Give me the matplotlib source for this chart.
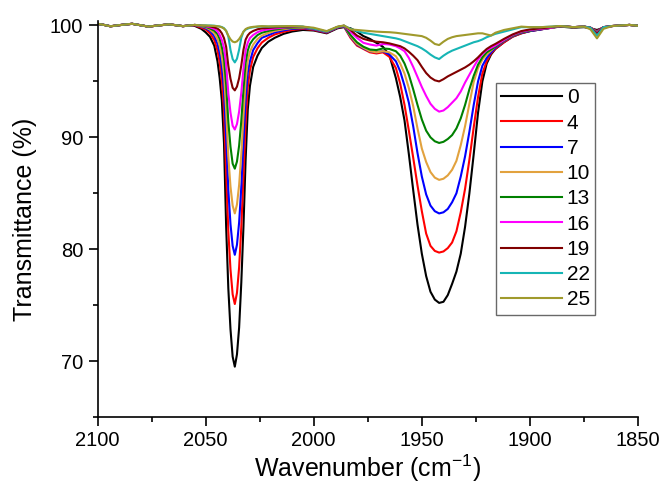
import matplotlib
matplotlib.use("Agg")
import matplotlib.pyplot as plt
from matplotlib.ticker import MultipleLocator, FixedLocator

plt.rcParams['font.family'] = ['Liberation Sans', 'DejaVu Sans']
plt.rcParams['mathtext.default'] = 'regular'

# Shared baseline at the high-wavenumber end (all spectra coincide here)
wn_left = [2100, 2097, 2094, 2089, 2084, 2080, 2076.5, 2072, 2067, 2063.5, 2060.5, 2057.5]
t_left = [100.15, 100.05, 99.93, 100.05, 100.15, 100.02, 99.9, 100.0, 100.1, 100.02, 99.94, 100.0]

# Wavenumber grid for the band region
wn = [2055, 2052, 2050, 2048, 2046, 2044.5, 2043.5, 2042.5, 2041.5, 2040.5,
      2039.5, 2038.5, 2037.5, 2036.5, 2035.5, 2034.5, 2033.5, 2032.5, 2031.5, 2030.5,
      2029.5, 2028, 2026, 2024, 2021, 2018, 2014, 2010, 2005, 2000, 1994, 1989, 1986,
      1983, 1980, 1977, 1974, 1971, 1968, 1965, 1962, 1960, 1958,
      1956, 1954, 1952, 1950, 1948, 1946, 1944, 1942, 1940, 1938,
      1936, 1934, 1932, 1930, 1928, 1926, 1924, 1922, 1920, 1918,
      1916, 1912, 1908, 1904, 1900, 1895, 1890, 1886, 1880, 1875,
      1872, 1869, 1866, 1862, 1858, 1854, 1850]

t_0 = [99.96, 99.7, 99.39, 98.99, 98.2, 96.8, 95.3, 93.3, 89.5, 82.0,
       76.5, 72.85, 70.4, 69.5, 70.6, 73.0, 77.0, 82.0, 88.0, 92.5,
       94.6, 96.3, 97.3, 97.99, 98.55, 98.9, 99.25, 99.46, 99.6, 99.55, 99.3, 99.75, 99.85,
       99.75, 99.45, 99.05, 98.8, 98.45, 98.1, 97.35, 95.3, 93.6, 91.5,
       88.5, 85.3, 82.2, 79.6, 77.6, 76.2, 75.5, 75.2, 75.3, 75.9,
       76.9, 78.0, 79.6, 82.0, 85.0, 88.5, 92.2, 95.0, 96.6, 97.4,
       97.9, 98.5, 99.0, 99.3, 99.5, 99.65, 99.8, 99.9, 99.8, 99.85,
       99.75, 99.6, 99.8, 99.95, 100.0, 100.05, 99.98]

t_4 = [100.0, 99.8, 99.65, 99.3, 98.7, 97.76, 96.7, 95.1, 92.35, 86.8,
       81.6, 78.2, 75.97, 75.1, 76.1, 78.4, 81.97, 86.5, 91.3, 94.5,
       95.99, 97.19, 97.96, 98.48, 98.9, 99.2, 99.43, 99.6, 99.7, 99.6, 99.35, 99.8, 99.9,
       98.9, 98.2, 97.9, 97.6, 97.5, 97.6, 97.2, 96.2, 94.8, 92.9,
       90.6, 88.2, 85.7, 83.4, 81.4, 80.3, 79.85, 79.7, 79.8, 80.1,
       80.6, 81.6, 83.3, 85.4, 88.0, 90.9, 93.6, 95.7, 96.8, 97.5,
       97.9, 98.5, 99.0, 99.3, 99.5, 99.65, 99.8, 99.95, 99.85, 99.9,
       99.8, 99.5, 99.85, 99.95, 100.0, 100.05, 99.98]

t_7 = [100.03, 99.9, 99.75, 99.53, 99.04, 98.36, 97.54, 96.3, 94.2, 89.9,
       85.3, 82.25, 80.3, 79.5, 80.4, 82.4, 85.55, 89.5, 93.4, 95.8,
       96.8, 97.8, 98.42, 98.9, 99.13, 99.38, 99.56, 99.7, 99.76, 99.65, 99.38, 99.82, 99.92,
       99.0, 98.3, 97.95, 97.7, 97.6, 97.7, 97.4, 96.8, 95.9, 94.6,
       93.1, 91.0, 88.6, 86.5, 84.9, 83.9, 83.4, 83.2, 83.3, 83.6,
       84.2, 85.0, 86.5, 88.3, 90.5, 92.9, 95.0, 96.4, 97.1, 97.6,
       98.0, 98.6, 99.05, 99.35, 99.5, 99.65, 99.8, 99.95, 99.85, 99.9,
       99.8, 99.45, 99.85, 99.95, 100.0, 100.05, 99.98]

t_10 = [100.05, 99.93, 99.83, 99.63, 99.3, 98.8, 98.2, 97.2, 95.7, 92.4,
        88.3, 85.6, 83.9, 83.2, 84.0, 85.75, 88.5, 91.9, 95.1, 96.85,
        97.65, 98.29, 98.79, 99.09, 99.33, 99.51, 99.66, 99.77, 99.8, 99.7, 99.42, 99.85, 99.97,
        99.05, 98.35, 98.0, 97.7, 97.6, 97.7, 97.6, 97.25, 96.6, 95.7,
        94.4, 92.8, 90.8, 89.0, 87.8, 86.9, 86.4, 86.2, 86.3, 86.6,
        87.1, 87.9, 89.3, 91.0, 93.0, 94.95, 96.2, 96.95, 97.4, 97.75,
        98.1, 98.65, 99.1, 99.4, 99.55, 99.7, 99.8, 99.95, 99.85, 99.9,
        99.8, 99.4, 99.85, 99.95, 100.0, 100.05, 99.98]

t_13 = [100.05, 99.96, 99.88, 99.74, 99.53, 99.22, 98.81, 98.08, 97.03, 94.71,
        91.39, 89.17, 87.65, 87.2, 87.84, 89.27, 91.47, 94.27, 96.67, 97.77,
        98.34, 98.77, 99.14, 99.35, 99.51, 99.63, 99.75, 99.82, 99.84, 99.7, 99.42, 99.85, 99.97,
        99.15, 98.5, 98.1, 97.85, 97.8, 97.95, 97.9, 97.7, 97.3, 96.6,
        95.6, 94.3, 92.9, 91.6, 90.6, 90.0, 89.65, 89.5, 89.6, 89.85,
        90.2, 90.8, 91.7, 92.9, 94.3, 95.5, 96.5, 97.15, 97.6, 97.85,
        98.1, 98.65, 99.1, 99.4, 99.55, 99.7, 99.8, 99.95, 99.85, 99.9,
        99.8, 99.35, 99.85, 99.95, 100.0, 100.05, 99.98]

t_16 = [100.05, 99.97, 99.93, 99.83, 99.7, 99.49, 99.16, 98.72, 98.01, 96.52,
        93.95, 92.22, 91.04, 90.7, 91.19, 92.31, 93.99, 96.12, 97.78, 98.47,
        98.88, 99.15, 99.4, 99.55, 99.65, 99.74, 99.81, 99.87, 99.86, 99.7, 99.42, 99.85, 99.97,
        99.45, 98.9, 98.45, 98.3, 98.2, 98.35, 98.3, 98.15, 97.95, 97.7,
        97.1, 96.3, 95.4, 94.5, 93.7, 93.0, 92.55, 92.3, 92.4, 92.7,
        93.1, 93.5, 94.1, 94.9, 95.6, 96.3, 96.95, 97.45, 97.8, 98.0,
        98.2, 98.7, 99.15, 99.45, 99.6, 99.7, 99.8, 99.95, 99.85, 99.9,
        99.8, 99.3, 99.85, 99.95, 100.0, 100.05, 99.98]

t_19 = [100.05, 99.99, 99.97, 99.92, 99.83, 99.72, 99.57, 99.3, 98.87, 98.09,
        96.41, 95.24, 94.43, 94.2, 94.54, 95.29, 96.43, 97.83, 98.74, 99.12,
        99.34, 99.51, 99.66, 99.74, 99.78, 99.83, 99.87, 99.9, 99.88, 99.72, 99.44, 99.86, 99.98,
        99.6, 99.1, 98.8, 98.65, 98.55, 98.5, 98.4, 98.25, 98.15, 97.95,
        97.65, 97.3, 96.9, 96.3, 95.75, 95.35, 95.1, 95.0, 95.2, 95.45,
        95.65, 95.85, 96.05, 96.25, 96.5, 96.8, 97.15, 97.55, 97.9, 98.15,
        98.35, 98.8, 99.2, 99.5, 99.65, 99.75, 99.85, 99.95, 99.85, 99.9,
        99.8, 99.25, 99.85, 99.95, 100.0, 100.05, 99.98]

t_22 = [100.05, 100.0, 100.0, 100.0, 99.98, 99.94, 99.91, 99.86, 99.76, 99.52,
        99.03, 97.82, 97.0, 96.7, 97.03, 97.84, 98.9, 99.44, 99.63, 99.72,
        99.79, 99.84, 99.89, 99.92, 99.9, 99.92, 99.93, 99.94, 99.9, 99.72, 99.45, 99.87, 99.98,
        99.7, 99.5, 99.35, 99.25, 99.15, 99.05, 98.95, 98.85, 98.75, 98.6,
        98.45, 98.3, 98.15, 97.95, 97.7, 97.4, 97.15, 97.0, 97.3, 97.55,
        97.75, 97.9, 98.05, 98.2, 98.35, 98.5, 98.6, 98.75, 98.95, 99.1,
        99.25, 99.45, 99.65, 99.85, 99.85, 99.85, 99.9, 99.95, 99.85, 99.9,
        99.8, 99.1, 99.85, 99.95, 100.0, 100.05, 99.98]

t_25 = [100.05, 100.0, 100.0, 99.98, 99.96, 99.93, 99.9, 99.83, 99.72, 99.52,
        99.09, 98.77, 98.56, 98.5, 98.58, 98.79, 99.09, 99.45, 99.68, 99.78,
        99.83, 99.88, 99.91, 99.94, 99.92, 99.93, 99.94, 99.95, 99.9, 99.8, 99.5, 99.9, 100.0,
        99.65, 99.6, 99.55, 99.5, 99.45, 99.42, 99.4, 99.35, 99.3, 99.25,
        99.2, 99.15, 99.1, 99.05, 98.9, 98.65, 98.35, 98.25, 98.55, 98.8,
        98.95, 99.05, 99.1, 99.15, 99.2, 99.25, 99.3, 99.3, 99.2, 99.1,
        99.35, 99.6, 99.75, 99.9, 99.85, 99.85, 99.9, 99.95, 99.85, 99.9,
        99.65, 98.85, 99.7, 99.95, 100.0, 100.05, 99.98]

labels = ['0', '4', '7', '10', '13', '16', '19', '22', '25']
series = [t_0, t_4, t_7, t_10, t_13, t_16, t_19, t_22, t_25]
colors = ['#000000', '#FF0000', '#0000FF', '#E2A23E', '#008000',
          '#FF00FF', '#800000', '#16B5B5', '#A09A2C']

x_ticks = [2100, 2050, 2000, 1950, 1900, 1850]
y_ticks = [70, 80, 90, 100]

fig = plt.figure(figsize=(6.62, 4.83), dpi=100)
ax = fig.add_axes([0.1473, 0.1366, 0.8165, 0.8199])

for lab, t, c in zip(labels, series, colors):
    ax.plot(wn_left + wn, t_left + t, color=c, lw=1.5, label=lab)

ax.set_xlim(2100, 1850)
ax.set_ylim(65, 100.4)
ax.xaxis.set_major_locator(FixedLocator(x_ticks))
ax.yaxis.set_major_locator(FixedLocator(y_ticks))
ax.xaxis.set_minor_locator(MultipleLocator(25))
ax.yaxis.set_minor_locator(MultipleLocator(5))
ax.set_xticklabels([str(v) for v in x_ticks])
ax.set_yticklabels([str(v) for v in y_ticks])

for s in ['top', 'right']:
    ax.spines[s].set_visible(False)
for s in ['left', 'bottom']:
    ax.spines[s].set_linewidth(1.2)
ax.tick_params(which='major', direction='out', length=6.8, width=1.2,
               labelsize=14.5, pad=3.6)
ax.tick_params(which='minor', direction='out', length=3.8, width=1.2)

ax.set_xlabel('Wavenumber (cm$^{-1}$)', fontsize=18, labelpad=1.5)
ax.set_ylabel('Transmittance (%)', fontsize=18, labelpad=9)

leg = ax.legend(loc='upper left', bbox_to_anchor=(0.737, 0.843), fontsize=15,
                frameon=True, fancybox=False, edgecolor='#444444',
                handlelength=2.9, handletextpad=0.25, labelspacing=0.3,
                borderpad=0.25, borderaxespad=0.0)
leg.get_frame().set_linewidth(1.0)
for line in leg.get_lines():
    line.set_linewidth(1.5)

fig.savefig('out.png', dpi=100)
